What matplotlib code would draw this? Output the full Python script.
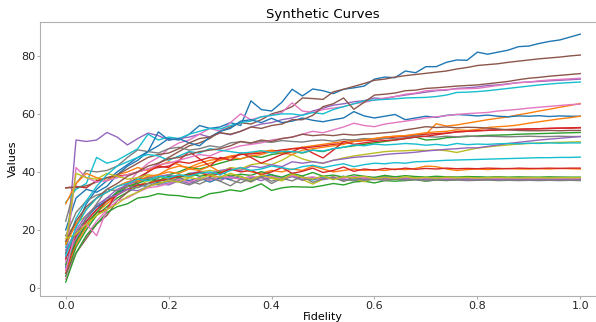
import numpy as np
import matplotlib

matplotlib.use("Agg")
import matplotlib.pyplot as plt


fidelity = np.linspace(0.0, 1.0, 51)

# curve values, 51 points each (x step 0.02)
blue_1 = [7, 21, 29, 34, 37, 40, 42.5, 45, 47, 49,
          51.5, 51, 53, 56, 55, 55.5, 57, 56, 64.5, 61.5,
          61, 64, 68.5, 66.2, 68.6, 68, 67, 68.5, 69, 69.6,
          72, 72.7, 72.5, 74.8, 74.2, 76.3, 76.3, 77.8, 78.6, 78.5,
          81.3, 80.6, 81.3, 82, 83.2, 83.4, 84.3, 85, 85.5, 86.5,
          87.5]
orange_1 = [5, 15, 21, 26, 29, 32, 35, 36.5, 38, 39,
            41, 42, 41.5, 43, 44, 44.5, 45.5, 46, 46.5, 47,
            47.5, 47, 48, 48.5, 49, 49.5, 50, 50.5, 51, 51.3,
            51.5, 52, 52.3, 52.5, 52.8, 53, 56.6, 55.8, 56.2, 56.8,
            57.4, 58, 58.5, 59, 59.7, 60.3, 61, 61.6, 62.3, 62.9,
            63.6]
green_1 = [4, 14, 20, 25, 28, 31, 33, 35, 36, 38,
           39, 40, 41.5, 41, 42, 43, 44, 44.5, 45.5, 45,
           46, 46.5, 47, 46.5, 47.5, 47, 48, 48.5, 49, 49.5,
           50, 50.5, 51, 51.5, 52, 51, 51.2, 51.8, 52, 52.2,
           52.4, 52.6, 52.7, 52.8, 53, 53.1, 53.2, 53.3, 53.4, 53.5,
           53.6]
red_1 = [34.5, 35, 34.5, 37, 38, 38.5, 39, 40, 41, 41.5,
         42, 43.5, 43, 44, 45, 44.5, 45, 46, 46.2, 46.5,
         47, 47.6, 48, 48.2, 48.6, 49, 49.5, 49.8, 50.5, 50.8,
         51, 51.5, 52, 52.3, 52.5, 53, 53.2, 53.4, 53.8, 54,
         54.2, 54.3, 54.5, 54.6, 54.7, 54.8, 54.9, 55, 55.1, 55.1,
         55.2]
purple_1 = [10, 51, 50.5, 51, 53.6, 52, 49.3, 51.5, 53.4, 52.5,
            51, 51.5, 52, 53, 52, 53.5, 52.8, 54, 55.5, 56.5,
            57, 58, 58.6, 59.6, 61, 62, 63, 63.5, 64.2, 64.6,
            65.5, 65.2, 66, 66.5, 67, 67.5, 68, 68.2, 68.8, 69,
            69.3, 69.8, 70, 70.4, 70.8, 71, 71.2, 71.4, 71.6, 71.8,
            72]
brown_1 = [5, 12, 17, 22, 25, 30, 33, 37, 40, 43,
           45, 47, 49, 50, 51.5, 54, 55.5, 57, 56.5, 58,
           60, 61, 62.5, 65.5, 65.3, 65, 67.6, 68.5, 69.5, 70.5,
           71.6, 72, 72.7, 73.2, 73.6, 74, 74.4, 74.8, 75.5, 76,
           76.7, 77, 77.3, 77.8, 78.2, 78.6, 79, 79.3, 79.6, 80,
           80.3]
pink_1 = [3, 12, 18, 23, 27, 32, 36, 40, 43, 45,
          48, 50, 51, 53, 55, 54, 57, 60, 58, 59,
          59.5, 60.5, 63.8, 61, 60.5, 61.5, 62, 62.5, 63.5, 64,
          64.8, 65.5, 66, 66.8, 67.2, 68, 68.2, 68.4, 68.6, 68.7,
          68.8, 69.3, 69.8, 70.3, 70.8, 71, 71.4, 71.7, 71.9, 72.1,
          72.3]
gray_1 = [23, 36, 40.5, 40, 40.5, 42, 45, 47.6, 47, 46.5,
          48, 48.5, 47.5, 48, 49, 48.5, 50, 50.4, 49.8, 50.5,
          50.2, 50.8, 50.5, 50.3, 50.8, 51, 50.6, 51.2, 51, 51.5,
          51.2, 51.6, 51.4, 51.8, 52.5, 52.2, 52, 52.3, 52.1, 52.4,
          52.2, 52.3, 52.2, 52.1, 52.2, 52.3, 52.2, 52.2, 52.3, 52.2,
          52.2]
olive_1 = [18, 22, 25, 28, 30, 32.5, 34, 35, 37, 36.5,
           38, 39, 38.5, 40, 40.5, 40, 41.5, 41, 42.5, 43,
           42.5, 44, 46, 44.5, 43.5, 43, 44, 44.8, 45.5, 46,
           46.5, 47, 47.2, 47.3, 47.5, 47.4, 47.6, 47.3, 46.7, 47.5,
           48.2, 48.6, 49, 49.3, 49.6, 49.8, 50, 50.1, 50.2, 50.3,
           50.4]
cyan_1 = [29.5, 34, 36, 45, 43, 44, 46, 48, 53, 51,
          52, 51.5, 53, 54, 55, 54.8, 56, 57, 57.5, 59,
          59.5, 60, 60, 59.5, 60.5, 60, 61.5, 62.5, 63.5, 64.5,
          64.8, 65, 65.2, 65.5, 65.6, 65.7, 66, 66.5, 67.4, 67.5,
          67.7, 68, 68.4, 68.8, 69.2, 69.6, 70, 70.3, 70.6, 70.8,
          71]

blue_2 = [20, 31, 34, 33, 35, 39, 42, 44, 47, 53.8,
          51, 51.5, 50, 49, 52, 54, 55, 57.5, 58, 57,
          58.5, 57, 57.5, 58.6, 57.8, 57.3, 58, 58.6, 60.8, 59.3,
          58.6, 59.2, 59.8, 58, 58.6, 59.2, 58.8, 59.5, 59.8, 59.6,
          59.3, 59.6, 59.2, 59, 59.3, 59.2, 59.4, 59.1, 59.3, 59.2,
          59.2]
orange_2 = [29, 36, 39.5, 38, 37, 39, 40, 41.5, 40.5, 42,
            43.5, 42.5, 41, 42, 43, 44, 45, 44.5, 45.5, 46,
            47, 46.5, 46, 47.5, 48, 48.5, 49, 49.5, 50.5, 51,
            51.5, 52, 52.3, 52.5, 53, 53.5, 53.8, 54, 54.5, 54.3,
            54.6, 55.3, 55.6, 55.8, 56.2, 56.8, 57.3, 57.8, 58.3, 58.7,
            59.2]
green_2 = [2, 12, 18, 22, 26, 28, 29, 31, 31.5, 32.5,
           32, 31.8, 31.2, 31, 32.5, 33, 33.8, 33.3, 34.5, 35.9,
           33.6, 34.5, 34.9, 34.8, 34.7, 35.3, 36, 35.5, 36.5, 36.8,
           36.2, 37, 36.8, 37, 37.3, 36.8, 37.2, 37, 37.3, 37.2,
           37.4, 37.3, 37.4, 37.5, 37.4, 37.5, 37.5, 37.6, 37.5, 37.6,
           37.6]
red_2 = [6, 16, 22, 26, 27, 33, 36, 38, 40, 42,
         41.5, 44, 47, 44.5, 42, 45, 44, 46.5, 45, 43,
         44.5, 46, 47, 48.5, 46.5, 44.8, 47.5, 50.5, 49.5, 50,
         50.5, 50.8, 51, 51.5, 52, 52.3, 52.8, 53.3, 53.8, 54,
         54.2, 54.4, 54.5, 54.6, 54.7, 54.8, 54.9, 55, 55.1, 55.2,
         55.3]
purple_2 = [8, 17, 23, 27, 31, 34, 35.5, 37, 38, 38.5,
            39, 38, 39.5, 40, 39.5, 40.5, 41, 40.5, 42, 41.5,
            42.5, 41.8, 43.5, 43, 43.5, 43, 44, 44.5, 45, 45.3,
            45.5, 46, 46.3, 46.5, 46.8, 47.2, 47.5, 47.8, 48, 48.3,
            48.3, 48.8, 49.3, 49.8, 50.2, 50.6, 51, 51.3, 51.6, 51.9,
            52.2]
brown_2 = [34.5, 34.6, 35.2, 36.5, 38, 39, 41, 43, 45, 46,
           46.5, 48, 50, 51.5, 52, 53.5, 53, 54, 55.5, 55,
           56, 56.5, 58, 58, 59.5, 62.5, 63.5, 65.5, 61.6, 64,
           66.5, 66.8, 67.2, 68, 68.2, 68.8, 69, 69.3, 69.6, 69.8,
           70, 70.4, 70.8, 71.2, 71.8, 72.3, 72.6, 73, 73.3, 73.6,
           73.9]
pink_2 = [9, 41.5, 38, 36.5, 37, 38, 39, 40, 41, 42.5,
          43, 44, 45, 46, 45.5, 47, 48, 49, 49.5, 50,
          51, 51.5, 52, 53, 54, 53.5, 54.5, 55.5, 56.8, 56,
          55.6, 56.5, 57, 57.5, 58, 58.6, 59, 59.4, 59.8, 60.1,
          60.3, 60.5, 61, 61.3, 61.6, 62, 62.3, 62.6, 62.9, 63.2,
          63.4]
gray_2 = [18, 26, 30, 32, 33, 35, 36.5, 37, 38, 37.5,
          36.5, 38, 37, 35.8, 37.5, 38.5, 37.2, 36.2, 37.8, 38.5,
          36.8, 37.9, 38.4, 37.1, 38, 37.3, 38.2, 37.5, 36.9, 37.6,
          38.1, 37.4, 37.8, 37.2, 37.6, 37.5, 37.3, 37.6, 37.4, 37.5,
          37.3, 37.4, 37.5, 37.3, 37.4, 37.4, 37.3, 37.4, 37.4, 37.3,
          37.4]
olive_2 = [15, 39.5, 38, 37.5, 39.5, 38.5, 37.5, 38, 39, 38.5,
           37, 38.5, 38, 39.5, 38.8, 37.6, 39, 38.2, 36.5, 38.5,
           37.8, 36.9, 38.6, 37.4, 35.8, 37.5, 38.3, 37, 37.8, 36.6,
           37.9, 37.3, 38, 37.5, 37.8, 37.4, 37.7, 37.6, 37.8, 37.5,
           37.7, 37.6, 37.8, 37.7, 37.8, 37.7, 37.8, 37.8, 37.9, 37.8,
           37.9]
cyan_2 = [14, 24, 30, 35, 39, 42, 43.5, 45, 46, 45.5,
          44, 45.5, 47, 46.5, 48, 47.5, 47, 46.5, 46.8, 47.3,
          46.6, 47.1, 47, 46.7, 47.5, 47.2, 48, 48.5, 49.3, 49,
          49.6, 49.3, 49.5, 49.8, 49.6, 49.2, 49.5, 49.1, 49.8, 49.4,
          49.6, 49.5, 49.7, 49.8, 49.7, 49.9, 49.8, 50, 49.9, 50,
          50]

blue_3 = [12, 18, 24, 28, 30, 33, 34, 35.5, 35, 36.5,
          36, 37.5, 37, 38, 36.5, 38, 37.5, 38.5, 37, 38.5,
          39, 37.5, 38.5, 38, 37.2, 38.3, 37.8, 38.5, 37.5, 38.2,
          37.8, 38.4, 38, 37.6, 38.3, 38, 37.8, 38.2, 38.1, 37.9,
          38.2, 38, 38.1, 38, 37.9, 38.1, 38, 38, 38.1, 38,
          38]
orange_3 = [15, 22, 27, 31, 33, 35, 36.5, 37, 38.5, 39,
            40, 39.5, 41, 40.5, 42, 40, 40.5, 41.5, 40, 39.5,
            40.5, 40, 41, 40.5, 42, 41, 40, 40.5, 41, 40.5,
            40.8, 40.5, 41, 40.8, 41.2, 42, 41.8, 41, 40.5, 40.8,
            41, 40.8, 41, 41.2, 41, 41, 41.1, 41, 41.2, 41.1,
            41]
green_3 = [8, 16, 22, 26, 30, 33, 35, 36, 37.5, 37,
           38.5, 38, 39.5, 38.5, 39, 40, 38.5, 39.2, 38.8, 40.1,
           39, 38.2, 39.5, 38.6, 39.8, 38.5, 38.9, 38.2, 39, 38.5,
           38.1, 38.8, 38.3, 38.7, 38.4, 38.2, 38.5, 38.3, 38.2, 38.4,
           38.3, 38.2, 38.3, 38.2, 38.3, 38.2, 38.2, 38.3, 38.2, 38.2,
           38.2]
red_3 = [10, 18, 23, 27, 30, 32, 34, 35.5, 36, 37,
         37.5, 38.5, 39, 40, 38.5, 39.5, 41, 40, 40.5, 39,
         40, 41.5, 39.5, 40.2, 41.3, 39.8, 40.5, 41.7, 40.2, 41,
         40.6, 41.2, 40.8, 41.3, 40.9, 41.2, 41, 41.3, 41.1, 41.2,
         41.1, 41.3, 41.2, 41.1, 41.3, 41.2, 41.2, 41.3, 41.2, 41.3,
         41.3]
purple_3 = [13, 20, 25, 28.5, 31, 32, 34, 33.5, 35, 36,
            35.5, 37, 36, 37.5, 38, 37, 38.5, 37.5, 38, 37,
            38.2, 37.6, 38.5, 37.3, 38, 37.4, 37.9, 37.2, 37.8, 37.5,
            37.3, 37.7, 37.4, 37.6, 37.3, 37.5, 37.4, 37.3, 37.5, 37.4,
            37.3, 37.4, 37.3, 37.4, 37.3, 37.3, 37.4, 37.3, 37.3, 37.3,
            37.3]
brown_3 = [16, 23, 28, 31, 34, 36, 38.5, 40, 42, 43,
           44.5, 45, 46, 47, 47.5, 48, 49, 50.5, 50, 51,
           50.5, 51.5, 52, 53, 52.5, 52.8, 52.5, 53, 52.7, 53,
           53.2, 53.5, 53.8, 54.5, 55, 55.6, 55.3, 55.5, 55.2, 55.4,
           55.3, 55.1, 54.8, 54.5, 54.3, 54.2, 54.2, 54.3, 54.2, 54.3,
           54.3]
pink_3 = [6, 20, 22, 18, 27, 30, 31, 33, 34.5, 35,
          36, 37.5, 36.5, 38, 37, 38.5, 38, 37.5, 38.6, 37.8,
          38.4, 37.6, 38.8, 37.9, 38.3, 37.6, 38.2, 37.8, 38.4, 38,
          37.7, 38.1, 37.9, 38, 37.8, 38, 37.9, 37.8, 38, 37.9,
          37.8, 37.9, 37.8, 37.9, 37.8, 37.8, 37.9, 37.8, 37.8, 37.8,
          37.8]
gray_3 = [12, 19, 24, 29, 34, 33.5, 35, 34.5, 36, 35.5,
          37.5, 36.5, 35.5, 37, 38, 36.8, 35.2, 37.5, 36.6, 38.3,
          36, 37.8, 36.9, 38.5, 36.4, 37.7, 38.2, 36.7, 37.9, 37.1,
          37.6, 37, 37.5, 37.2, 37.4, 36.9, 37.3, 37.1, 37.2, 37,
          37.1, 37.2, 37, 37.1, 37, 37.1, 37, 37.1, 37, 37.1,
          37]
olive_3 = [17, 18.5, 22, 25, 27, 29, 31.5, 33, 35, 36,
           37, 36.5, 38, 37.5, 39, 38.2, 39.5, 38.4, 37.2, 38.9,
           38, 37.4, 39.2, 38.1, 37.5, 38.6, 37.3, 38.4, 37.9, 38.5,
           37.6, 38.2, 37.7, 38.3, 37.9, 38.1, 37.8, 38.2, 38, 38.1,
           37.9, 38, 38.1, 38, 37.9, 38, 38, 37.9, 38, 38,
           38]
cyan_3 = [11, 21, 27, 31, 33, 35, 36, 37.5, 37, 38.5,
          38, 39, 38.5, 39.5, 40, 39, 40.5, 41.5, 40.5, 41,
          42, 41.5, 40.8, 41.8, 42.3, 41.5, 42.2, 42.8, 41.8, 42.5,
          43, 42.8, 43.2, 43, 43.5, 43.6, 43.8, 44, 44.1, 44.2,
          44.3, 44.4, 44.5, 44.6, 44.7, 44.8, 44.9, 44.9, 45, 45,
          45.1]


def main() -> None:
    curves = [
        blue_1, orange_1, green_1, red_1, purple_1,
        brown_1, pink_1, gray_1, olive_1, cyan_1,
        blue_2, orange_2, green_2, red_2, purple_2,
        brown_2, pink_2, gray_2, olive_2, cyan_2,
        blue_3, orange_3, green_3, red_3, purple_3,
        brown_3, pink_3, gray_3, olive_3, cyan_3,
    ]

    fig = plt.figure(figsize=(5.96, 3.22), dpi=100)
    # axes run past the right edge, as in the cropped reference
    ax = fig.add_axes([40 / 596, 26 / 322, 566 / 596, 274 / 322])

    for values in curves:
        ax.plot(fidelity, values, linewidth=1.0)

    ax.set_xlim(-0.05, 1.05)
    ax.set_ylim(-2.8, 91.7)
    ax.set_xticks([0.0, 0.2, 0.4, 0.6, 0.8, 1.0])
    ax.set_yticks([0, 20, 40, 60, 80])

    for spine in ax.spines.values():
        spine.set_color("#b0b0b0")
    ax.tick_params(colors="#b0b0b0", labelcolor="#262626", labelsize=8,
                   length=2, pad=1.5)

    ax.set_title("Synthetic Curves", fontsize=9.5, pad=3)
    ax.set_xlabel("Fidelity", fontsize=8, labelpad=0.5)
    ax.set_ylabel("Values", fontsize=8, labelpad=2)

    fig.savefig("out.png", dpi=100)


if __name__ == "__main__":
    main()
